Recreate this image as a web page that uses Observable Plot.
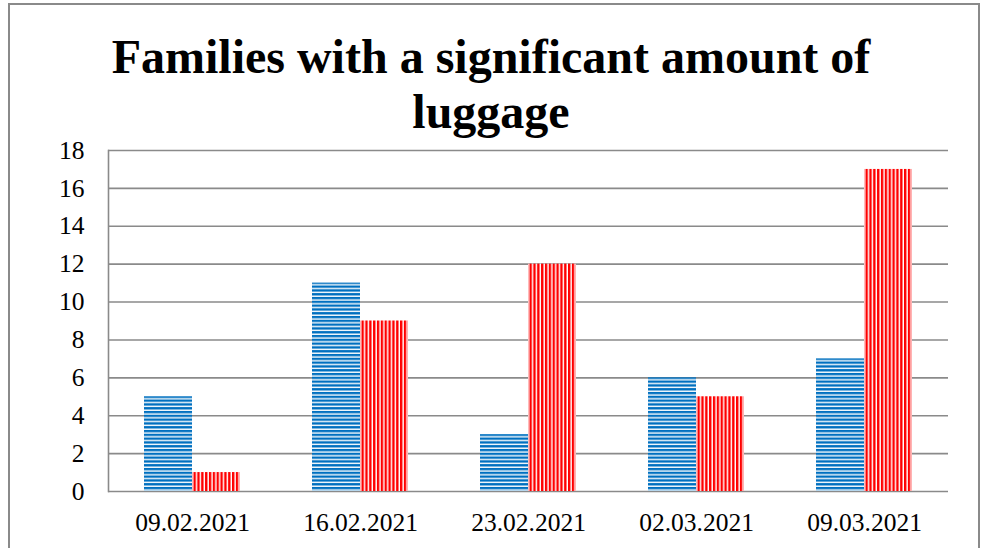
<!DOCTYPE html>
<html>
<head>
<meta charset="utf-8">
<script src="https://cdn.jsdelivr.net/npm/d3@7"></script>
<script src="https://cdn.jsdelivr.net/npm/@observablehq/plot@0.6"></script>
<style>
  html, body { margin: 0; padding: 0; background: #fff; width: 987px; height: 548px; overflow: hidden; }
  #frame { position: absolute; left: 8px; top: 3px; width: 968px; height: 560px;
           border: 2px solid #8a8a8a; border-bottom: none; }
  #title { position: absolute; left: 0; top: 28.5px; width: 982px; text-align: center;
           font-family: "Liberation Serif", "Times New Roman", serif; font-weight: bold;
           font-size: 48px; line-height: 55px; color: #000; }
  #chart { position: absolute; left: 0; top: 0; }
  #chart svg text { font-family: "Liberation Serif", "Times New Roman", serif !important; }
</style>
</head>
<body>
<div id="frame"></div>
<div id="title">Families with a significant amount of<br>luggage</div>
<div id="chart"></div>
<script>
const dates = ["09.02.2021", "16.02.2021", "23.02.2021", "02.03.2021", "09.03.2021"];
const seriesNames = ["A", "B"];
const blueValues = [5, 11, 3, 6, 7];
const redValues = [1, 9, 12, 5, 17];
const yTicks = [0, 2, 4, 6, 8, 10, 12, 14, 16, 18];

const blueData = dates.map((d, i) => ({date: d, series: seriesNames[0], value: blueValues[i]}));
const redData = dates.map((d, i) => ({date: d, series: seriesNames[1], value: redValues[i]}));

const serif = "'Liberation Serif', 'Times New Roman', serif";

const plot = Plot.plot({
  width: 987,
  height: 548,
  marginLeft: 107,
  marginRight: 39,
  marginTop: 150,
  marginBottom: 57,
  style: {fontFamily: serif, fontSize: "25.5px", color: "#000", background: "transparent"},
  fx: {domain: dates, paddingInner: 0, paddingOuter: 0, label: null},
  x: {domain: seriesNames, paddingInner: 0, paddingOuter: 0.74, axis: null},
  y: {domain: [0, 18], label: null},
  marks: [
    Plot.ruleY(yTicks, {stroke: "#8a8a8a", strokeWidth: 1.6}),
    Plot.frame({anchor: "left", facetAnchor: "left", stroke: "#8a8a8a", strokeWidth: 1.6}),
    Plot.barY(blueData, {fx: "date", x: "series", y: "value", fill: "url(#blueStripes)", insetLeft: 0, insetRight: 0}),
    Plot.barY(redData, {fx: "date", x: "series", y: "value", fill: "url(#redStripes)", insetLeft: 0, insetRight: 0}),
    Plot.axisY(yTicks, {tickSize: 0, tickPadding: 24, label: null, fontSize: 25.5, fontFamily: serif}),
    Plot.axisFx({anchor: "bottom", tickSize: 0, tickPadding: 21, label: null, fontSize: 25.5, fontFamily: serif})
  ]
});

const ns = "http://www.w3.org/2000/svg";
const defs = document.createElementNS(ns, "defs");
defs.innerHTML = `
  <pattern id="blueStripes" patternUnits="userSpaceOnUse" x="0" y="0.5" width="4" height="3.8">
    <rect x="0" y="0" width="4" height="3.8" fill="#ffffff"/>
    <rect x="0" y="0" width="4" height="2.4" fill="#0070C0"/>
  </pattern>
  <pattern id="redStripes" patternUnits="userSpaceOnUse" x="0" y="0" width="3.85" height="4">
    <rect x="0" y="0" width="3.85" height="4" fill="#ffffff"/>
    <rect x="0" y="0" width="2.4" height="4" fill="#FF0000"/>
  </pattern>`;
plot.insertBefore(defs, plot.firstChild);
document.getElementById("chart").appendChild(plot);
</script>
</body>
</html>
